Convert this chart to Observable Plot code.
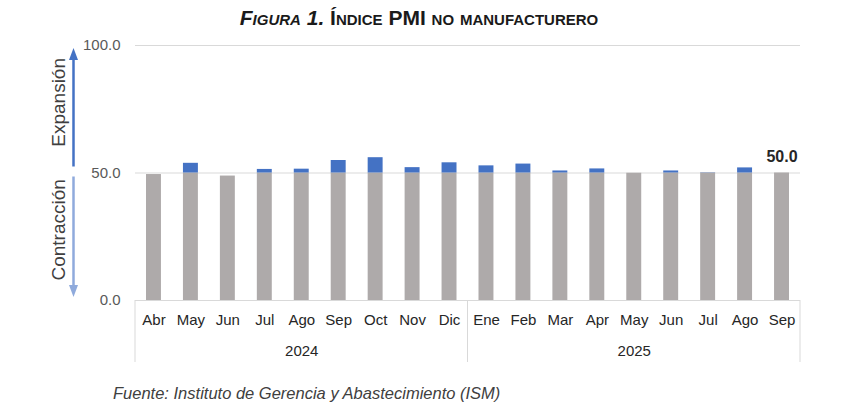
<!DOCTYPE html>
<html><head><meta charset="utf-8">
<script src="https://cdn.jsdelivr.net/npm/d3@7"></script>
<script src="https://cdn.jsdelivr.net/npm/@observablehq/plot@0.6"></script>
<style>
body{margin:0;background:#fff;width:848px;height:410px;position:relative;overflow:hidden;font-family:"Liberation Sans",Arial,sans-serif;}
#title{position:absolute;top:5px;left:0;width:838px;text-align:center;font-weight:bold;font-size:21px;font-variant:small-caps;color:#1a1a1a;line-height:26px;}
#chart{position:absolute;top:35px;left:0;}
#foot{position:absolute;left:113px;top:383px;font-style:italic;font-size:16.5px;color:#404040;line-height:20px;}
</style></head><body>
<div id="title"><i>Figura 1.</i> Índice PMI no manufacturero</div>
<div id="chart"></div>
<div id="foot">Fuente: Instituto de Gerencia y Abastecimiento (ISM)</div>
<script>
const months = ["Abr","May","Jun","Jul","Ago","Sep","Oct","Nov","Dic","Ene","Feb","Mar","Apr","May","Jun","Jul","Ago","Sep"];
const years = [2024,2024,2024,2024,2024,2024,2024,2024,2024,2025,2025,2025,2025,2025,2025,2025,2025,2025];
const values = [49.4,53.8,48.8,51.4,51.5,54.9,56.0,52.1,54.0,52.8,53.5,50.8,51.6,49.9,50.8,50.1,52.0,50.0];
const yTicks = [0,50,100];
const threshold = 50;

const data = months.map((m,i)=>({key: years[i]+"-"+m, month:m, year:years[i], value:values[i]}));
const gray = data.map(d=>({...d, top: Math.min(d.value, threshold)}));
const blue = data.filter(d=>d.value>threshold);
const yearGroups = d3.groups(data, d=>d.year);
const yearLabels = yearGroups.map(([y, arr])=>arr[Math.floor(arr.length/2)]);
const last = data[data.length-1];

const GRAY="#aeaaaa", BLUE="#4472c4", LIGHT="#8faadc", GRID="#d9d9d9";
const inset = 11;

const plot = Plot.plot({
  width:848, height:340, marginLeft:135, marginRight:48, marginTop:10, marginBottom:75,
  style:{fontFamily:"Liberation Sans, Arial, sans-serif", background:"transparent", overflow:"visible"},
  x:{domain:data.map(d=>d.key), padding:0, round:false, axis:null},
  y:{domain:[0,100]},
  marks:[
    Plot.ruleY(yTicks, {stroke:GRID, strokeWidth:1}),
    Plot.axisY({ticks:yTicks, tickFormat:d=>d.toFixed(1), tickSize:0, tickPadding:15, fontSize:15, fill:"#595959", label:null}),
    Plot.barY(gray, {x:"key", y1:0, y2:"top", fill:GRAY, insetLeft:inset, insetRight:inset}),
    Plot.barY(blue, {x:"key", y1:threshold, y2:"value", fill:BLUE, insetLeft:inset, insetRight:inset}),
    Plot.text(data, {x:"key", text:"month", frameAnchor:"bottom", dy:24, fontSize:15, fill:"#262626"}),
    Plot.text(yearLabels, {x:"key", text:d=>String(d.year), frameAnchor:"bottom", dy:55, fontSize:15, fill:"#262626"}),
    Plot.text([last], {x:"key", y:"value", text:d=>d.value.toFixed(1), dy:-11, lineAnchor:"bottom", fontWeight:"bold", fontSize:16, fill:"#262626"})
  ]
});
document.getElementById("chart").appendChild(plot);

const xs = plot.scale("x"), ys = plot.scale("y");
const svg = d3.select(plot);
const bw = xs.bandwidth;
const y0 = ys.apply(0);
const seps = [xs.apply(data[0].key)];
yearGroups.forEach(([y,arr])=>seps.push(xs.apply(arr[arr.length-1].key)+bw));
const g = svg.append("g");
seps.forEach(x=>{
  g.append("line").attr("x1",x).attr("x2",x).attr("y1",y0).attr("y2",y0+62).attr("stroke",GRID).attr("stroke-width",1);
});
const ax = 73.5;
function arrow(yStart, yTip, color){
  const dir = yTip < yStart ? -1 : 1;
  const headH = 12, headW = 4.5;
  g.append("line").attr("x1",ax).attr("x2",ax).attr("y1",yStart).attr("y2",yTip - dir*headH*0.6)
    .attr("stroke",color).attr("stroke-width",2.5);
  g.append("path").attr("d",`M${ax},${yTip} L${ax-headW},${yTip-dir*headH} L${ax+headW},${yTip-dir*headH} Z`).attr("fill",color);
}
arrow(ys.apply(threshold)-6, ys.apply(100)+3, BLUE);
arrow(ys.apply(threshold)+4, ys.apply(0)-3, LIGHT);
[["Expansión",77.5],["Contracción",27.5]].forEach(([t,v])=>{
  g.append("text").attr("transform",`translate(58.5,${ys.apply(v)}) rotate(-90)`)
    .attr("text-anchor","middle").attr("dominant-baseline","central")
    .attr("font-size",19).attr("fill","#404040").text(t);
});
</script>
</body></html>
